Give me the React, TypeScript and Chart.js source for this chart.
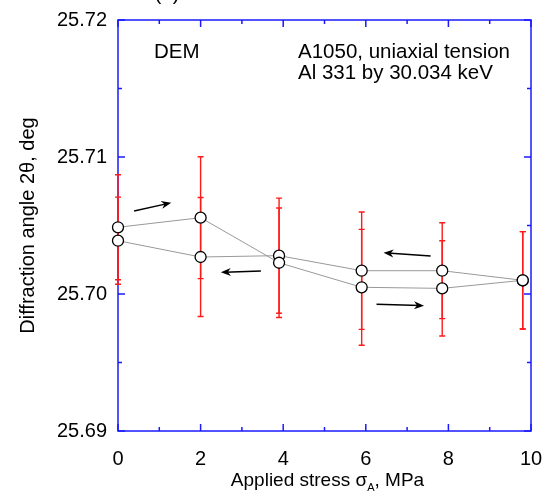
import React, { useEffect, useRef } from "react";
import { Chart, registerables } from "chart.js";

Chart.register(...registerables);

// ---- data ----
const loadingX = [0, 2, 3.9, 5.9, 7.85, 9.8];
const loadingY = [25.70487, 25.70557, 25.70228, 25.70049, 25.70041, 25.7010];
const loadingErr = [0.00383, 0.00445, 0.0040, 0.00423, 0.00348, 0.00355];

const unloadingX = [9.8, 7.85, 5.9, 3.9, 2, 0];
const unloadingY = [25.7010, 25.7017, 25.7017, 25.7028, 25.7027, 25.70389];
const unloadingErr = [0.00355, 0.0035, 0.00428, 0.0042, 0.00434, 0.00318];

const xMajorTicks = [0, 2, 4, 6, 8, 10];
const xMinorTicks = [1, 3, 5, 7, 9];
const yMajorTicks = [25.69, 25.70, 25.71, 25.72];
const yMinorTicks = [25.695, 25.705, 25.715];

// arrows: [x1, y1, x2, y2] in data units (tail -> head)
const arrows = [
  [0.39, 25.70606, 1.29, 25.70666],
  [3.46, 25.70168, 2.49, 25.70158],
  [7.57, 25.70277, 6.43, 25.70301],
  [6.26, 25.69925, 7.41, 25.69915],
];

const FONT = "'Liberation Sans', Arial, Helvetica, sans-serif";
const AXIS_COLOR = "#1a1aff";
const ERR_COLOR = "#ff1a1a";

const errorBarsPlugin = {
  id: "errorBars",
  beforeDatasetsDraw(chart: any) {
    const { ctx, scales } = chart;
    const x = scales.x, y = scales.y;
    const draw = (xs: number[], ys: number[], es: number[]) => {
      xs.forEach((xv, i) => {
        const px = x.getPixelForValue(xv);
        const pTop = y.getPixelForValue(ys[i] + es[i]);
        const pBot = y.getPixelForValue(ys[i] - es[i]);
        ctx.beginPath();
        ctx.moveTo(px, pTop);
        ctx.lineTo(px, pBot);
        ctx.moveTo(px - 3, pTop);
        ctx.lineTo(px + 3, pTop);
        ctx.moveTo(px - 3, pBot);
        ctx.lineTo(px + 3, pBot);
        ctx.stroke();
      });
    };
    ctx.save();
    ctx.strokeStyle = ERR_COLOR;
    ctx.lineWidth = 1.4;
    draw(loadingX, loadingY, loadingErr);
    draw(unloadingX, unloadingY, unloadingErr);
    ctx.restore();
  },
};

const framePlugin = {
  id: "frame",
  beforeDatasetsDraw(chart: any) {
    const { ctx, chartArea, scales } = chart;
    const { left, right, top, bottom } = chartArea;
    const x = scales.x, y = scales.y;
    ctx.save();
    ctx.strokeStyle = AXIS_COLOR;
    ctx.lineWidth = 1.5;
    ctx.strokeRect(left, top, right - left, bottom - top);
    ctx.beginPath();
    const xt = (v: number, len: number) => {
      const px = x.getPixelForValue(v);
      ctx.moveTo(px, bottom);
      ctx.lineTo(px, bottom - len);
      ctx.moveTo(px, top);
      ctx.lineTo(px, top + len);
    };
    const yt = (v: number, len: number) => {
      const py = y.getPixelForValue(v);
      ctx.moveTo(left, py);
      ctx.lineTo(left + len, py);
      ctx.moveTo(right, py);
      ctx.lineTo(right - len, py);
    };
    xMajorTicks.forEach((v) => xt(v, 7));
    xMinorTicks.forEach((v) => xt(v, 4));
    yMajorTicks.forEach((v) => yt(v, 7));
    yMinorTicks.forEach((v) => yt(v, 4));
    ctx.stroke();
    ctx.restore();
  },
};

const annotPlugin = {
  id: "annot",
  afterDatasetsDraw(chart: any) {
    const { ctx, chartArea, scales } = chart;
    const x = scales.x, y = scales.y;
    ctx.save();
    // arrows
    ctx.strokeStyle = "#000";
    ctx.fillStyle = "#000";
    ctx.lineWidth = 1.5;
    arrows.forEach(([x1, y1, x2, y2]) => {
      const a = x.getPixelForValue(x1), b = y.getPixelForValue(y1);
      const c = x.getPixelForValue(x2), d = y.getPixelForValue(y2);
      const ang = Math.atan2(d - b, c - a);
      ctx.beginPath();
      ctx.moveTo(a, b);
      ctx.lineTo(c - 4 * Math.cos(ang), d - 4 * Math.sin(ang));
      ctx.stroke();
      const L = 10, W = 4;
      ctx.beginPath();
      ctx.moveTo(c, d);
      ctx.lineTo(c - L * Math.cos(ang) + W * Math.sin(ang), d - L * Math.sin(ang) - W * Math.cos(ang));
      ctx.lineTo(c - 7 * Math.cos(ang), d - 7 * Math.sin(ang));
      ctx.lineTo(c - L * Math.cos(ang) - W * Math.sin(ang), d - L * Math.sin(ang) + W * Math.cos(ang));
      ctx.closePath();
      ctx.fill();
    });
    // texts
    ctx.fillStyle = "#000";
    ctx.font = `20.5px ${FONT}`;
    ctx.textBaseline = "middle";
    ctx.textAlign = "left";
    ctx.fillText("DEM", 154, 52);
    ctx.fillText("A1050, uniaxial tension", 298, 52);
    ctx.fillText("Al 331 by 30.034 keV", 298, 73);
    // (a) partially cut title
    ctx.textBaseline = "alphabetic";
    ctx.textAlign = "center";
    ctx.fillText("(a)", 167, 0);
    // x-axis title with subscript
    const cx = (chartArea.left + chartArea.right) / 2 + 3;
    const base = 486;
    const p1 = "Applied stress ";
    const p2 = "\u03c3";
    const p3 = "A";
    const p4 = ", MPa";
    ctx.textAlign = "left";
    ctx.font = `19px ${FONT}`;
    const w1 = ctx.measureText(p1).width;
    const w2 = ctx.measureText(p2).width;
    const w4 = ctx.measureText(p4).width;
    ctx.font = `11px ${FONT}`;
    const w3 = ctx.measureText(p3).width;
    let sx = cx - (w1 + w2 + w3 + w4) / 2;
    ctx.font = `19px ${FONT}`;
    ctx.fillText(p1, sx, base);
    sx += w1;
    ctx.fillText(p2, sx, base);
    sx += w2;
    ctx.font = `11px ${FONT}`;
    ctx.fillText(p3, sx, base + 5);
    sx += w3;
    ctx.font = `19px ${FONT}`;
    ctx.fillText(p4, sx, base);
    ctx.restore();
  },
};

export default function App() {
  const ref = useRef<HTMLCanvasElement>(null);
  useEffect(() => {
    document.body.style.margin = "0";
    const lineStyle = {
      borderColor: "#999999",
      borderWidth: 1,
      pointRadius: 5.5,
      pointBackgroundColor: "#ffffff",
      pointBorderColor: "#000000",
      pointBorderWidth: 1.3,
      showLine: true,
      fill: false,
      tension: 0,
      clip: false as any,
    };
    const chart = new Chart(ref.current!, {
      type: "scatter",
      data: {
        datasets: [
          { label: "loading", data: loadingX.map((v, i) => ({ x: v, y: loadingY[i] })), ...lineStyle },
          { label: "unloading", data: unloadingX.map((v, i) => ({ x: v, y: unloadingY[i] })), ...lineStyle },
        ],
      },
      options: {
        animation: false,
        responsive: false,
        maintainAspectRatio: false,
        events: [],
        layout: { padding: { top: 20, right: 24, left: 0, bottom: 0 } },
        plugins: { legend: { display: false }, tooltip: { enabled: false }, title: { display: false } },
        scales: {
          x: {
            type: "linear",
            min: 0,
            max: 10,
            afterBuildTicks: (s: any) => { s.ticks = xMajorTicks.map((v) => ({ value: v })); },
            afterFit: (s: any) => { s.height = 69; s.paddingLeft = 0; s.paddingRight = 0; },
            grid: { display: false, drawTicks: false },
            border: { display: false },
            ticks: { color: "#000", font: { family: FONT, size: 20 }, padding: 16, maxRotation: 0, callback: (v: any) => String(v) },
          },
          y: {
            type: "linear",
            min: 25.69,
            max: 25.72,
            afterBuildTicks: (s: any) => { s.ticks = yMajorTicks.map((v) => ({ value: v })); },
            afterFit: (s: any) => { s.width = 118; s.paddingTop = 0; s.paddingBottom = 0; },
            grid: { display: false, drawTicks: false },
            border: { display: false },
            ticks: { color: "#000", font: { family: FONT, size: 20 }, padding: 11, callback: (v: any) => Number(v).toFixed(2) },
            title: {
              display: true,
              text: "Diffraction angle 2\u03b8, deg",
              color: "#000",
              font: { family: FONT, size: 20 },
              padding: { top: 16, bottom: 0 },
            },
          },
        },
      },
      plugins: [framePlugin, errorBarsPlugin, annotPlugin],
    });
    return () => chart.destroy();
  }, []);
  return (
    <div style={{ width: 555, height: 500 }}>
      <canvas ref={ref} width={555} height={500} style={{ display: "block" }} />
    </div>
  );
}
